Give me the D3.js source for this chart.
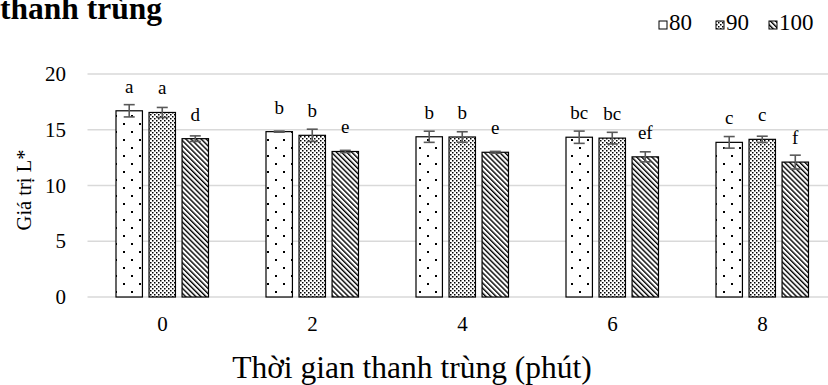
<!DOCTYPE html>
<html>
<head>
<meta charset="utf-8">
<script src="https://cdn.jsdelivr.net/npm/d3@7"></script>
<style>
  body { margin: 0; background: #fff; }
  svg text { font-family: 'Liberation Serif', 'Times New Roman', serif; fill: #000; }
</style>
</head>
<body>
<svg id="chart" width="828" height="385"></svg>
<script>
// data
const times = ['0', '2', '4', '6', '8'];
const series = ['80', '90', '100'];
const values = {
  '80': [16.7, 14.83, 14.37, 14.33, 13.87],
  '90': [16.55, 14.5, 14.35, 14.25, 14.14],
  '100': [14.2, 13.05, 12.98, 12.57, 12.1],
};
const errors = {
  '80': [0.55, 0.05, 0.5, 0.55, 0.52],
  '90': [0.45, 0.55, 0.47, 0.52, 0.28],
  '100': [0.25, 0.1, 0.08, 0.45, 0.62],
};
const letters = {
  '80': ['a', 'b', 'b', 'bc', 'c'],
  '90': ['a', 'b', 'b', 'bc', 'c'],
  '100': ['d', 'e', 'e', 'ef', 'f'],
};
const yTicks = [0, 5, 10, 15, 20];

// layout settings
const config = {
  plot: { left: 87.5, right: 837.5, top: 74, bottom: 297 },
  bar: { start: 28.5, span: 92.5, gap: 0.2 },
  cap: 5.5,
  font: "'Liberation Serif', 'Times New Roman', serif",
};

const svg = d3.select('#chart').style('font-family', config.font);

// build flat rows for the bars
const rows = [];
times.forEach((t, i) => {
  series.forEach(s => {
    rows.push({ time: t, series: s, value: values[s][i], err: errors[s][i], letter: letters[s][i] });
  });
});

const x0 = d3.scaleBand()
  .domain(times)
  .range([config.plot.left, config.plot.right]);

const x1 = d3.scaleBand()
  .domain(series)
  .range([config.bar.start, config.bar.start + config.bar.span])
  .paddingInner(config.bar.gap);

const y = d3.scaleLinear()
  .domain([0, 20])
  .range([config.plot.bottom, config.plot.top]);

// fill patterns
const defs = svg.append('defs');

const p80 = defs.append('pattern')
  .attr('id', 'p80').attr('patternUnits', 'userSpaceOnUse')
  .attr('width', 16).attr('height', 16);
p80.append('rect').attr('width', 16).attr('height', 16).attr('fill', '#fff');
p80.append('rect').attr('x', 3).attr('y', 3).attr('width', 2).attr('height', 2).attr('fill', '#000');
p80.append('rect').attr('x', 11).attr('y', 11).attr('width', 2).attr('height', 2).attr('fill', '#000');

const p90 = defs.append('pattern')
  .attr('id', 'p90').attr('patternUnits', 'userSpaceOnUse')
  .attr('width', 4).attr('height', 4);
p90.append('rect').attr('width', 4).attr('height', 4).attr('fill', '#fff');
p90.append('rect').attr('x', 0).attr('y', 0).attr('width', 1.5).attr('height', 1.5).attr('fill', '#000');
p90.append('rect').attr('x', 2).attr('y', 2).attr('width', 1.5).attr('height', 1.5).attr('fill', '#000');

const p100 = defs.append('pattern')
  .attr('id', 'p100').attr('patternUnits', 'userSpaceOnUse')
  .attr('width', 3.6).attr('height', 3.6)
  .attr('patternTransform', 'rotate(-45)');
p100.append('rect').attr('width', 3.6).attr('height', 3.6).attr('fill', '#fff');
p100.append('rect').attr('width', 1.4).attr('height', 3.6).attr('fill', '#000');

// gridlines
svg.append('g')
  .selectAll('line')
  .data(yTicks)
  .join('line')
  .attr('x1', config.plot.left)
  .attr('x2', config.plot.right)
  .attr('y1', d => y(d))
  .attr('y2', d => y(d))
  .attr('stroke', '#d9d9d9')
  .attr('stroke-width', 1.3);

// y-axis tick labels
const yAxis = d3.axisLeft(y).tickValues(yTicks).tickSize(0).tickPadding(0);
svg.append('g')
  .attr('transform', 'translate(66, 0)')
  .call(yAxis)
  .call(g => g.select('.domain').remove())
  .call(g => g.selectAll('text')
    .attr('font-size', 21)
    .style('font-family', config.font));

// x-axis tick labels
const xAxis = d3.axisBottom(x0).tickSize(0).tickPadding(0);
svg.append('g')
  .attr('transform', `translate(0, ${config.plot.bottom + 19})`)
  .call(xAxis)
  .call(g => g.select('.domain').remove())
  .call(g => g.selectAll('text')
    .attr('font-size', 21)
    .style('font-family', config.font));

// bars
const bars = svg.append('g');
bars.selectAll('rect')
  .data(rows)
  .join('rect')
  .attr('x', d => x0(d.time) + x1(d.series))
  .attr('y', d => y(d.value))
  .attr('width', x1.bandwidth())
  .attr('height', d => y(0) - y(d.value))
  .attr('fill', d => `url(#p${d.series})`)
  .attr('stroke', '#000')
  .attr('stroke-width', 1.2);

// error bars
const errG = svg.append('g')
  .attr('stroke', '#595959')
  .attr('stroke-width', 1.6);
const cx = d => x0(d.time) + x1(d.series) + x1.bandwidth() / 2;
errG.selectAll('.stem')
  .data(rows)
  .join('line')
  .attr('x1', cx).attr('x2', cx)
  .attr('y1', d => y(d.value + d.err))
  .attr('y2', d => y(d.value - d.err));
errG.selectAll('.capTop')
  .data(rows)
  .join('line')
  .attr('x1', d => cx(d) - config.cap).attr('x2', d => cx(d) + config.cap)
  .attr('y1', d => y(d.value + d.err))
  .attr('y2', d => y(d.value + d.err));
errG.selectAll('.capBottom')
  .data(rows)
  .join('line')
  .attr('x1', d => cx(d) - config.cap).attr('x2', d => cx(d) + config.cap)
  .attr('y1', d => y(d.value - d.err))
  .attr('y2', d => y(d.value - d.err));

// significance letters
svg.append('g')
  .selectAll('text')
  .data(rows)
  .join('text')
  .attr('x', cx)
  .attr('y', d => y(d.value) - 18)
  .attr('text-anchor', 'middle')
  .attr('font-size', 19)
  .text(d => d.letter);

// axis titles
svg.append('text')
  .attr('transform', 'translate(31, 190) rotate(-90)')
  .attr('text-anchor', 'middle')
  .attr('font-size', 20.5)
  .text('Giá trị L*');

svg.append('text')
  .attr('x', 412)
  .attr('y', 378)
  .attr('text-anchor', 'middle')
  .attr('font-size', 31.5)
  .text('Thời gian thanh trùng (phút)');

// title (cut off at top, as in the source)
svg.append('text')
  .attr('x', 0)
  .attr('y', 19)
  .attr('font-size', 31.5)
  .attr('font-weight', 'bold')
  .text('thanh trùng');

// legend
const legend = svg.append('g');
const legendX = [659, 716, 769];
series.forEach((s, i) => {
  legend.append('rect')
    .attr('x', legendX[i]).attr('y', 21)
    .attr('width', 8).attr('height', 8)
    .attr('fill', `url(#p${s})`)
    .attr('stroke', '#000')
    .attr('stroke-width', 1);
  legend.append('text')
    .attr('x', legendX[i] + 10)
    .attr('y', 30)
    .attr('font-size', 23)
    .text(s);
});
</script>
</body>
</html>
